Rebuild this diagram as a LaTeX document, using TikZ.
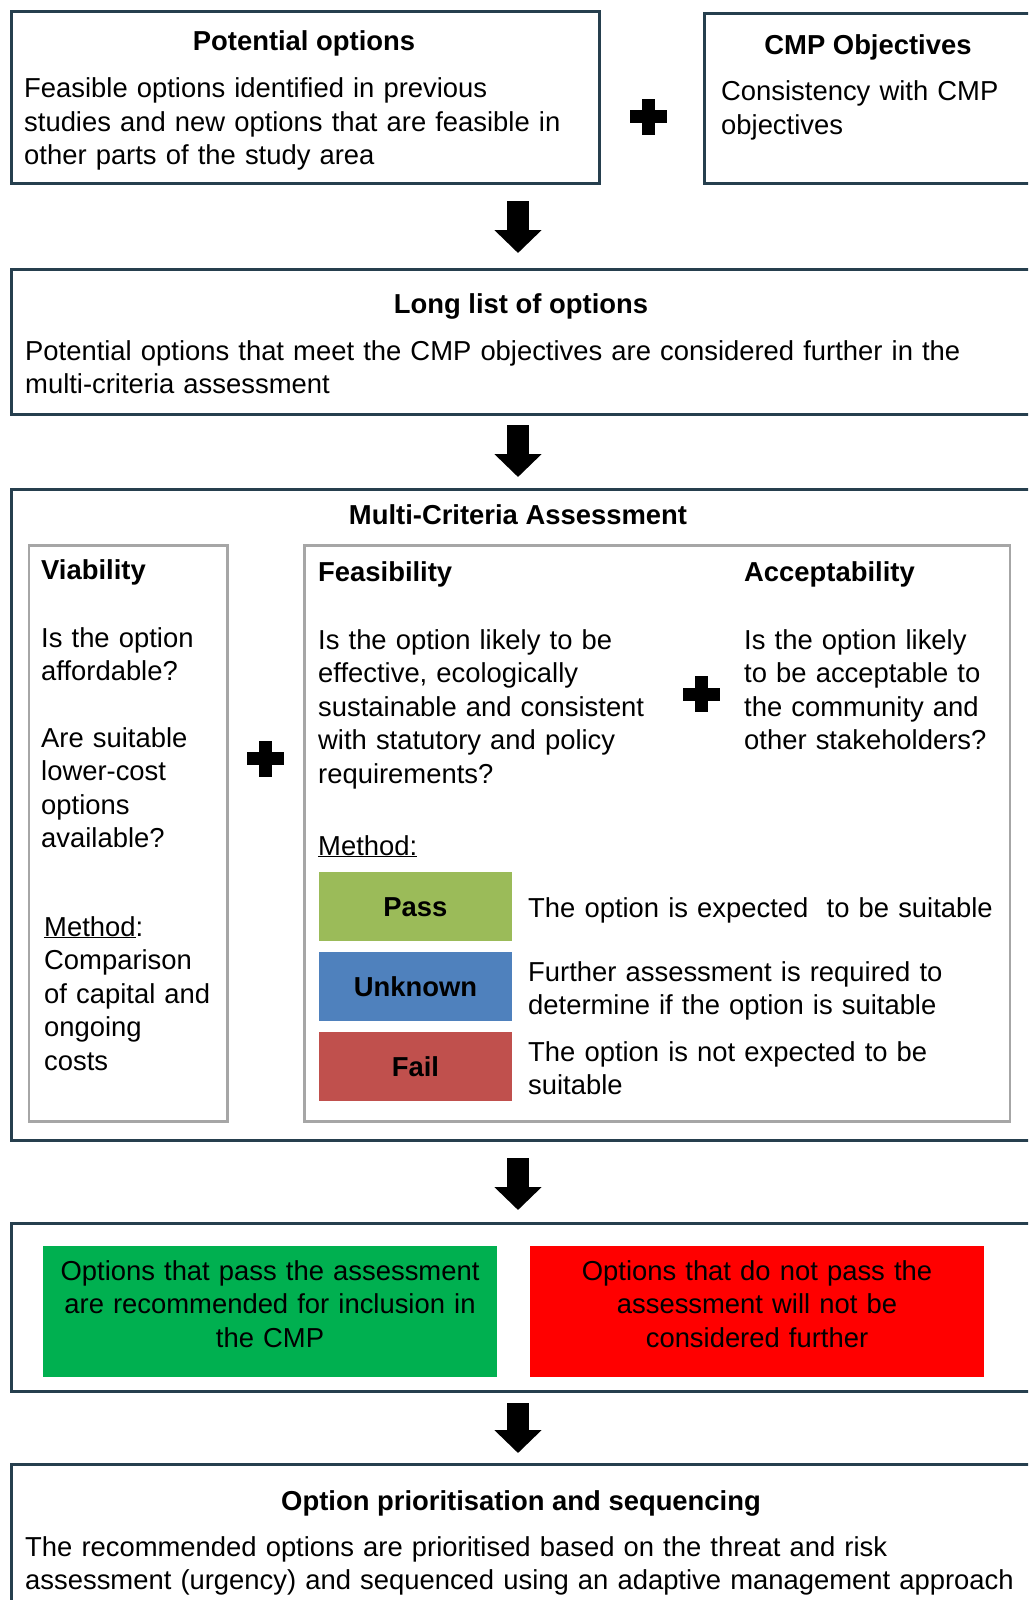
\documentclass[tikz,border=0pt]{standalone}
\usepackage{fontspec}
\setmainfont{Liberation Sans}
\usetikzlibrary{arrows.meta}
\definecolor{frame}{HTML}{263F4E}
\definecolor{subgray}{HTML}{A6A6A6}
\definecolor{passc}{HTML}{9BBB59}
\definecolor{unkc}{HTML}{4F81BD}
\definecolor{failc}{HTML}{C0504D}
\definecolor{okgreen}{HTML}{00B050}
\definecolor{nored}{HTML}{FF0000}
\newcommand\bodyfont{\fontsize{27.4}{33.5}\selectfont\hyphenpenalty=10000\exhyphenpenalty=10000}
\tikzset{
  bigbox/.style={draw=frame, line width=3pt, rectangle, anchor=north west, inner sep=0pt},
  subbox/.style={draw=subgray, line width=2.5pt, rectangle, anchor=north west, inner sep=0pt},
  colbox/.style={rectangle, anchor=north west, inner sep=0pt, draw=none, font=\bodyfont\bfseries},
  para/.style={anchor=base west, inner sep=0pt, align=left, text width=#1, font=\bodyfont},
  para/.default=600pt,
  cpara/.style={anchor=base, inner sep=0pt, align=center, text width=#1, font=\bodyfont},
  ttl/.style={anchor=base, inner sep=0pt, font=\bodyfont\bfseries},
  lttl/.style={anchor=base west, inner sep=0pt, font=\bodyfont\bfseries},
  bigarrow/.style={draw=black, line width=22pt, -{Triangle[width=46pt,length=23pt]}},
  plussign/.pic={
    \fill[black] (-18.5,-6.5) rectangle (18.5,6.5);
    \fill[black] (-6.5,-18) rectangle (6.5,18);
  }
}
\begin{document}
\begin{tikzpicture}[x=1pt,y=-1pt]
\useasboundingbox (0,0) rectangle (1028,1600);
\clip (0,0) rectangle (1028,1600);
\fill[white] (0,0) rectangle (1028,1600);

% top row
\node[bigbox, minimum width=588pt, minimum height=172pt] (pot) at (10,10) {};
\node[ttl] (potT) at (304,51) {Potential options};
\node[para] (potB) at (24,98) {Feasible options identified in previous\\studies and new options that are feasible in\\other parts of the study area};

\node[bigbox, minimum width=335pt, minimum height=170pt] (cmp) at (703,12) {};
\node[ttl] (cmpT) at (868,55) {CMP Objectives};
\node[para] (cmpB) at (721,101) {Consistency with CMP\\objectives};

\pic at (648,117) {plussign};

% long list
\node[bigbox, minimum width=1035pt, minimum height=145pt] (ll) at (10,268) {};
\node[ttl] (llT) at (521,313) {Long list of options};
\node[para=1100pt] (llB) at (25,360) {Potential options that meet the CMP objectives are considered further in the\\multi-criteria assessment};

% MCA
\node[bigbox, minimum width=1035pt, minimum height=651pt] (mca) at (10,488) {};
\node[ttl] (mcaT) at (518,524) {Multi-Criteria Assessment};

\node[subbox, minimum width=198.5pt, minimum height=576pt] (via) at (27.5,544) {};
\node[subbox, minimum width=705.5pt, minimum height=576pt] (fea) at (303,544) {};

\node[lttl] (viaT) at (41,579) {Viability};
\node[para=200pt] (viaB1) at (41,647) {Is the option\\affordable?};
\node[para=200pt] (viaB2) at (41,747) {Are suitable\\lower-cost\\options\\available?};
\node[para=200pt] (viaB3) at (44,936) {\underline{Method}:\\Comparison\\of capital and\\ongoing\\costs};

\pic at (265.5,758.5) {plussign};

\node[lttl] (feaT) at (318,581) {Feasibility};
\node[para=380pt] (feaB) at (318,649) {Is the option likely to be\\effective, ecologically\\sustainable and consistent\\with statutory and policy\\requirements?};
\node[para=300pt] (feaM) at (318,855) {\underline{Method:}};

\pic at (701,694) {plussign};

\node[lttl] (accT) at (744,581) {Acceptability};
\node[para=280pt] (accB) at (744,649) {Is the option likely\\to be acceptable to\\the community and\\other stakeholders?};

\node[colbox, fill=passc, minimum width=192.5pt, minimum height=69pt] (pass) at (319,872) {Pass};
\node[colbox, fill=unkc, minimum width=192.5pt, minimum height=69pt] (unk) at (319,952) {Unknown};
\node[colbox, fill=failc, minimum width=192.5pt, minimum height=69pt] (fail) at (319,1032) {Fail};

\node[para=480pt] (passD) at (528,917) {The option is expected\ \ to be suitable};
\node[para=480pt] (unkD) at (528,981) {Further assessment is required to\\determine if the option is suitable};
\node[para=480pt] (failD) at (528,1061) {The option is not expected to be\\suitable};

% results
\node[bigbox, minimum width=1035pt, minimum height=168pt] (res) at (10,1222) {};
\node[colbox, fill=okgreen, minimum width=454pt, minimum height=131pt] (grn) at (43,1246) {};
\node[colbox, fill=nored, minimum width=453.6pt, minimum height=131pt] (red) at (530,1246) {};
\node[cpara=450pt] (grnT) at (270,1280) {Options that pass the assessment\\are recommended for inclusion in\\the CMP};
\node[cpara=450pt] (redT) at (757,1280) {Options that do not pass the\\assessment will not be\\considered further};

% final
\node[bigbox, minimum width=1035pt, minimum height=170pt] (fin) at (10,1463) {};
\node[ttl] (finT) at (521,1510) {Option prioritisation and sequencing};
\node[para=1100pt] (finB) at (25,1556) {The recommended options are prioritised based on the threat and risk\\assessment (urgency) and sequenced using an adaptive management approach};

% arrows
\coordinate (ax) at (518,0);
\draw[bigarrow, shorten <=16pt, shorten >=15pt] (pot.south -| ax) -- (ll.north -| ax);
\draw[bigarrow, shorten <=9pt, shorten >=11pt] (ll.south -| ax) -- (mca.north -| ax);
\draw[bigarrow, shorten <=16pt, shorten >=12pt] (mca.south -| ax) -- (res.north -| ax);
\draw[bigarrow, shorten <=10pt, shorten >=10pt] (res.south -| ax) -- (fin.north -| ax);
\end{tikzpicture}
\end{document}
